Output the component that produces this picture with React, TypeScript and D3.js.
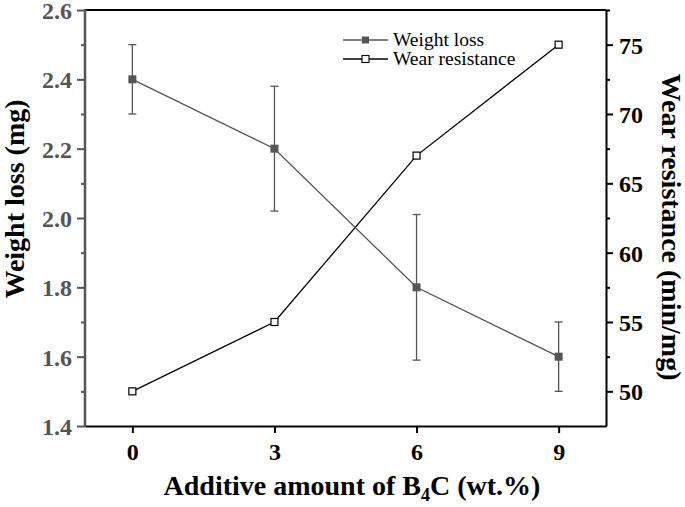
import React, { useRef, useEffect } from 'react';
import * as d3 from 'd3';

const additive = [0, 3, 6, 9];
const weightLoss = [2.4, 2.2, 1.8, 1.6];
const weightErr = [0.1, 0.18, 0.21, 0.1];
const wearResistance = [50, 55, 67, 75];
const leftTicks = [1.4, 1.6, 1.8, 2.0, 2.2, 2.4, 2.6];
const rightTicks = [50, 55, 60, 65, 70, 75];

const W = 685;
const H = 507;
const GRAY = '#555555';
const FONT = '"Liberation Serif", "Times New Roman", serif';

const App: React.FC = () => {
  const ref = useRef<SVGSVGElement | null>(null);

  useEffect(() => {
    if (!ref.current) return;
    const svg = d3.select(ref.current);
    svg.selectAll('*').remove();

    const margin = { top: 10, right: 79, bottom: 81, left: 85 };
    const x = d3.scaleLinear().domain([-1, 10]).range([margin.left, W - margin.right]);
    const yL = d3.scaleLinear().domain([1.4, 2.6]).range([H - margin.bottom, margin.top]);
    const yR = d3.scaleLinear().domain([47.5, 77.5]).range([H - margin.bottom, margin.top]);

    const g = svg.append('g').style('font-family', FONT);

    // top frame line
    g.append('line')
      .attr('x1', margin.left).attr('x2', W - margin.right)
      .attr('y1', margin.top).attr('y2', margin.top)
      .attr('stroke', '#000').attr('stroke-width', 2);

    // left axis (gray), minor + major
    const leftMinor = g.append('g').attr('transform', `translate(${margin.left},0)`)
      .call(d3.axisLeft(yL).tickValues(d3.range(1.5, 2.6, 0.2)).tickSize(4).tickFormat(() => ''));
    leftMinor.select('.domain').remove();
    const leftMajor = g.append('g').attr('transform', `translate(${margin.left},0)`)
      .call(d3.axisLeft(yL).tickValues(leftTicks).tickSize(8).tickPadding(5).tickFormat(d3.format('.1f')));
    [leftMinor, leftMajor].forEach((a) => {
      a.selectAll('line').attr('stroke', GRAY).attr('stroke-width', 2);
    });
    leftMajor.select('.domain').remove();
    leftMajor.selectAll('text')
      .attr('fill', GRAY).style('font-size', '24px').style('font-weight', 'bold')
      .style('font-family', FONT).attr('dy', '0.35em');

    // right axis (black)
    const rightMinor = g.append('g').attr('transform', `translate(${W - margin.right},0)`)
      .call(d3.axisRight(yR).tickValues(d3.range(52.5, 77.6, 5)).tickSize(4).tickFormat(() => ''));
    rightMinor.select('.domain').remove();
    const rightMajor = g.append('g').attr('transform', `translate(${W - margin.right},0)`)
      .call(d3.axisRight(yR).tickValues(rightTicks).tickSize(7).tickPadding(6).tickSizeOuter(0));
    [rightMinor, rightMajor].forEach((a) => {
      a.selectAll('line').attr('stroke', '#000').attr('stroke-width', 2);
      a.selectAll('.domain').attr('stroke', '#000').attr('stroke-width', 2);
    });
    rightMajor.selectAll('text')
      .attr('fill', '#000').style('font-size', '24px').style('font-weight', 'bold')
      .style('font-family', FONT).attr('dy', '0.35em');

    // bottom axis (black)
    const bottom = g.append('g').attr('transform', `translate(0,${H - margin.bottom})`)
      .call(d3.axisBottom(x).tickValues(additive).tickSize(7).tickPadding(10).tickSizeOuter(0));
    bottom.selectAll('line').attr('stroke', '#000').attr('stroke-width', 2);
    bottom.select('.domain').attr('stroke', '#000').attr('stroke-width', 2);
    bottom.selectAll('text')
      .attr('fill', '#000').style('font-size', '24px').style('font-weight', 'bold')
      .style('font-family', FONT);

    // left domain line drawn last so the gray sits over the corner
    g.append('line')
      .attr('x1', margin.left).attr('x2', margin.left)
      .attr('y1', margin.top - 1).attr('y2', H - margin.bottom + 1)
      .attr('stroke', GRAY).attr('stroke-width', 2.5);

    const wl = additive.map((a, i) => ({ x: a, y: weightLoss[i], e: weightErr[i] }));
    const wr = additive.map((a, i) => ({ x: a, y: wearResistance[i] }));

    // wear resistance line
    g.append('path').datum(wr)
      .attr('fill', 'none').attr('stroke', '#000').attr('stroke-width', 1.3)
      .attr('d', d3.line<{ x: number; y: number }>().x((d) => x(d.x)).y((d) => yR(d.y)));

    // weight loss line
    g.append('path').datum(wl)
      .attr('fill', 'none').attr('stroke', GRAY).attr('stroke-width', 1.3)
      .attr('d', d3.line<{ x: number; y: number }>().x((d) => x(d.x)).y((d) => yL(d.y)));

    // error bars
    const eb = g.append('g').attr('stroke', GRAY).attr('stroke-width', 1.3);
    wl.forEach((d) => {
      const cx = x(d.x);
      eb.append('line').attr('x1', cx).attr('x2', cx).attr('y1', yL(d.y - d.e)).attr('y2', yL(d.y + d.e));
      eb.append('line').attr('x1', cx - 4).attr('x2', cx + 4).attr('y1', yL(d.y - d.e)).attr('y2', yL(d.y - d.e));
      eb.append('line').attr('x1', cx - 4).attr('x2', cx + 4).attr('y1', yL(d.y + d.e)).attr('y2', yL(d.y + d.e));
    });

    // markers
    const s = 8;
    g.selectAll('.wl').data(wl).enter().append('rect')
      .attr('x', (d) => x(d.x) - s / 2).attr('y', (d) => yL(d.y) - s / 2)
      .attr('width', s).attr('height', s).attr('fill', GRAY);
    g.selectAll('.wr').data(wr).enter().append('rect')
      .attr('x', (d) => x(d.x) - s / 2 + 0.5).attr('y', (d) => yR(d.y) - s / 2 + 0.5)
      .attr('width', s - 1).attr('height', s - 1).attr('fill', '#fff')
      .attr('stroke', '#000').attr('stroke-width', 1.2);

    // legend
    const legend = g.append('g');
    const items = [
      { label: 'Weight loss', color: GRAY, filled: true, y: 40 },
      { label: 'Wear resistance', color: '#000', filled: false, y: 59 },
    ];
    items.forEach((it) => {
      legend.append('line').attr('x1', 343).attr('x2', 388).attr('y1', it.y).attr('y2', it.y)
        .attr('stroke', it.color).attr('stroke-width', 1.3);
      legend.append('rect').attr('x', 362).attr('y', it.y - 3.5).attr('width', 7).attr('height', 7)
        .attr('fill', it.filled ? GRAY : '#fff').attr('stroke', it.filled ? 'none' : '#000')
        .attr('stroke-width', 1.1);
      legend.append('text').attr('x', 393).attr('y', it.y).attr('dy', '0.3em')
        .style('font-size', '19.5px').attr('fill', '#000').text(it.label);
    });

    // axis titles
    g.append('text')
      .attr('transform', `translate(24,199) rotate(-90)`)
      .attr('text-anchor', 'middle')
      .style('font-size', '28px').style('font-weight', 'bold').attr('fill', '#000')
      .text('Weight loss (mg)');
    g.append('text')
      .attr('transform', `translate(662,227) rotate(90)`)
      .attr('text-anchor', 'middle')
      .style('font-size', '28px').style('font-weight', 'bold').attr('fill', '#000')
      .text('Wear resistance (min/mg)');
    const xt = g.append('text')
      .attr('x', 352).attr('y', 495)
      .attr('text-anchor', 'middle')
      .style('font-size', '28px').style('font-weight', 'bold').attr('fill', '#000');
    xt.append('tspan').text('Additive amount of B');
    xt.append('tspan').attr('dy', 6).style('font-size', '18px').text('4');
    xt.append('tspan').attr('dy', -6).text('C (wt.%)');
  }, []);

  return (
    <svg ref={ref} width={W} height={H}
      style={{ position: 'absolute', left: 0, top: 0, background: '#fff' }} />
  );
};

export default App;
